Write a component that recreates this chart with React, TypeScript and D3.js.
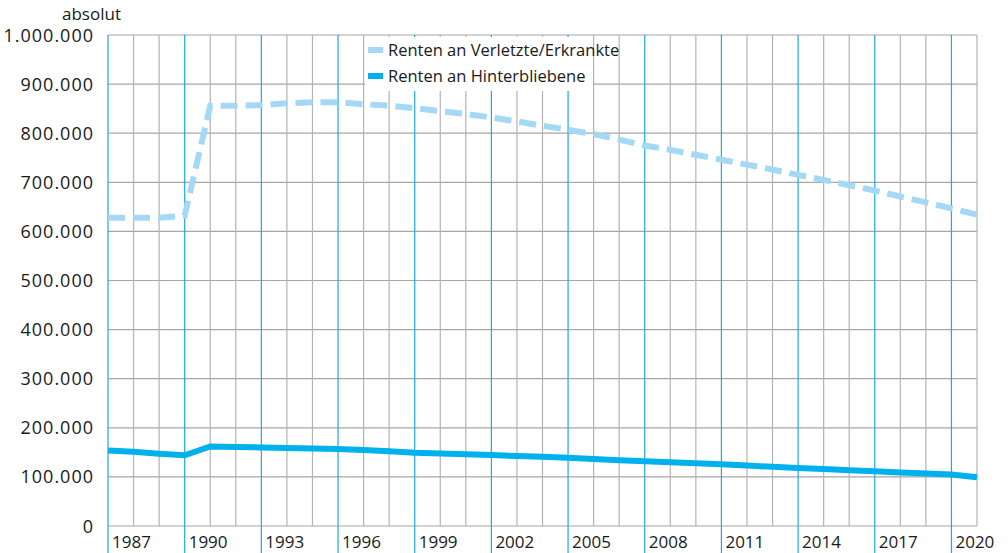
import React from 'react';
import * as d3 from 'd3';

// data year = value at the right edge of that year's band
const years = [1986, 1987, 1988, 1989, 1990, 1991, 1992, 1993, 1994, 1995, 1996, 1997, 1998, 1999, 2000, 2001, 2002,
  2003, 2004, 2005, 2006, 2007, 2008, 2009, 2010, 2011, 2012, 2013, 2014, 2015, 2016, 2017, 2018, 2019, 2020];

const verletzte = [628000, 628000, 628000, 632000, 856000, 856000, 857000, 861000, 863000, 863000, 859000, 856000,
  851000, 845000, 839000, 832000, 824000, 815000, 807000, 798000, 787000, 775000, 766000, 756000, 746000, 736000,
  726000, 715000, 705000, 694000, 683000, 671000, 659000, 647000, 634000];

const hinterbliebene = [154000, 151000, 147000, 144000, 162000, 161000, 160000, 159000, 158000, 157000, 155000,
  152000, 149000, 147500, 146000, 144500, 142500, 141000, 139000, 136500, 134000, 132000, 130000, 128000, 126000,
  123000, 120500, 118000, 116000, 113500, 111500, 109000, 107000, 105000, 99500];

const yTicks = [0, 100000, 200000, 300000, 400000, 500000, 600000, 700000, 800000, 900000, 1000000];
const xLabels = [1987, 1990, 1993, 1996, 1999, 2002, 2005, 2008, 2011, 2014, 2017, 2020];

const seriesNames = ['Renten an Verletzte/Erkrankte', 'Renten an Hinterbliebene'];

const W = 1008;
const H = 553;
const FONT = "'Open Sans', sans-serif";

export default function App() {
  const x = d3.scaleLinear().domain([1986, 2020]).range([108, 977]);
  const y = d3.scaleLinear().domain([0, 1000000]).range([526, 35]);
  const fmt = (v: number) => d3.format(',')(v).replace(/,/g, '.');

  const line = d3.line<number>()
    .x((_, i) => x(years[i]))
    .y(d => y(d));

  const gridYears = d3.range(1986, 2021);
  const blueYears = xLabels.map(v => v - 1);

  return (
    <div style={{ position: 'absolute', left: 0, top: 0 }}>
      <svg width={W} height={H} style={{ display: 'block', fontFamily: FONT }}>
        <rect width={W} height={H} fill="#fff" />
        {/* horizontal grid */}
        {yTicks.map(t => (
          <line key={'h' + t} x1={108} x2={977} y1={y(t)} y2={y(t)} stroke="#a6a6a6" strokeWidth={1.2} />
        ))}
        {/* yearly vertical grid */}
        {gridYears.filter(v => !blueYears.includes(v)).map(v => (
          <line key={'v' + v} x1={x(v)} x2={x(v)} y1={35} y2={526} stroke="#b3b3b3" strokeWidth={1.2} />
        ))}
        {/* every third year, blue, running down through the labels */}
        {blueYears.map(v => (
          <line key={'b' + v} x1={x(v)} x2={x(v)} y1={35} y2={H} stroke="#1fa9e1" strokeWidth={1.2} />
        ))}

        {/* legend box hides the grid */}
        <rect x={365} y={37} width={228} height={54} fill="#fff" />
        <line x1={368} x2={383} y1={50} y2={50} stroke="#a3d9f5" strokeWidth={6} />
        <line x1={368} x2={383} y1={76} y2={76} stroke="#00b1eb" strokeWidth={6} />
        <text x={388} y={56} fontSize={16.5} fill="#1a1a1a">{seriesNames[0]}</text>
        <text x={388} y={82} fontSize={16.5} fill="#1a1a1a">{seriesNames[1]}</text>

        <path d={line(verletzte) || ''} fill="none" stroke="#a3d9f5" strokeWidth={6} strokeDasharray="17 8" />
        <path d={line(hinterbliebene) || ''} fill="none" stroke="#00b1eb" strokeWidth={6} />

        {/* y axis labels */}
        {yTicks.map(t => (
          <text key={'yl' + t} x={94} y={y(t) + 6.5} textAnchor="end" fontSize={18} letterSpacing={1}
            fill="#1a1a1a">{fmt(t)}</text>
        ))}
        <text x={62} y={20} fontSize={17} fill="#1a1a1a">absolut</text>

        {/* x axis labels */}
        {xLabels.map(v => (
          <text key={'xl' + v} x={x(v - 1) + 4} y={548} fontSize={17} fill="#1a1a1a">{v}</text>
        ))}
      </svg>
    </div>
  );
}
